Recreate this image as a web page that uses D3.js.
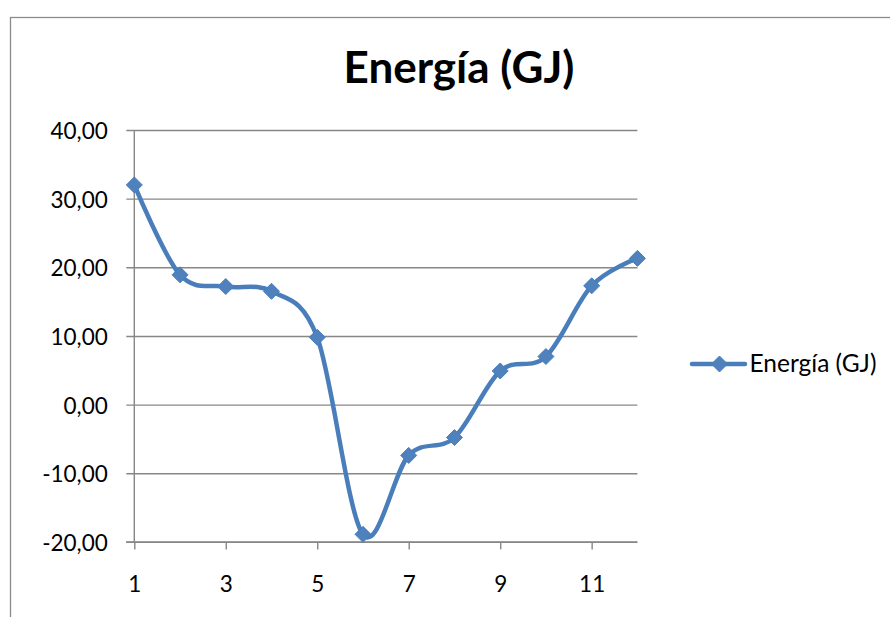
<!DOCTYPE html>
<html>
<head>
<meta charset="utf-8">
<script src="https://cdn.jsdelivr.net/npm/d3@7"></script>
<style>
  html, body { margin: 0; padding: 0; background: #fff; }
  svg { display: block; }
  text { font-family: Lato, "Open Sans", sans-serif; fill: #000; }
</style>
</head>
<body>
<svg id="chart" width="890" height="617"></svg>
<script>
// Monthly energy balance (GJ), periods 1..12
const periods = [1, 2, 3, 4, 5, 6, 7, 8, 9, 10, 11, 12];
const energy = [32.0, 18.9, 17.2, 16.5, 9.8, -18.9, -7.4, -4.8, 4.9, 7.0, 17.3, 21.3];
const yTicks = [-20, -10, 0, 10, 20, 30, 40];
const xTicks = [1, 3, 5, 7, 9, 11];
const seriesName = "Energía (GJ)";
const chartTitle = "Energía (GJ)";

const svg = d3.select("#chart");
const gridColor = "#878787";
const lineColor = "#4a7ebb";
const markerColor = "#4f81bd";

// Chart frame (runs off the right and bottom edges)
svg.append("rect")
  .attr("x", 10.5).attr("y", 17.5)
  .attr("width", 1000).attr("height", 1000)
  .attr("fill", "none").attr("stroke", "#8c8c8c").attr("stroke-width", 1.3);

const x = d3.scaleLinear().domain([1, 12]).range([134.3, 637.4]);
const y = d3.scaleLinear().domain([-20, 40]).range([541.9, 130]);

const fmt = v => d3.format(".2f")(v).replace(".", ",").replace("−", "-");

// Horizontal gridlines with outside tick marks
const yAxis = d3.axisLeft(y)
  .tickValues(yTicks)
  .tickSize(-(637.4 - 134.3))
  .tickSizeOuter(0)
  .tickPadding(0)
  .tickFormat(fmt);

const gy = svg.append("g").attr("transform", "translate(134.3,0)").call(yAxis);
gy.select(".domain").remove();
gy.selectAll(".tick line")
  .attr("x1", -8)
  .attr("stroke", gridColor).attr("stroke-width", 1.4);
gy.selectAll(".tick text")
  .attr("x", -26.5)
  .attr("dy", null)
  .attr("y", 8.5)
  .attr("font-size", 22.5)
  .attr("text-anchor", "end");

// Vertical axis line
svg.append("line")
  .attr("x1", x(1)).attr("x2", x(1))
  .attr("y1", y(40)).attr("y2", y(-20))
  .attr("stroke", gridColor).attr("stroke-width", 1.4);

// Category axis along the bottom
const xAxis = d3.axisBottom(x)
  .tickValues(xTicks)
  .tickSize(7.5)
  .tickSizeOuter(0)
  .tickFormat(d3.format("d"));

const gx = svg.append("g").attr("transform", `translate(0,${y(-20)})`).call(xAxis);
gx.select(".domain")
  .attr("d", `M126,0H${x(12)}`)
  .attr("stroke", gridColor).attr("stroke-width", 1.4);
gx.selectAll(".tick line").attr("stroke", gridColor).attr("stroke-width", 1.4);
gx.selectAll(".tick text")
  .attr("dy", null)
  .attr("y", 49.8)
  .attr("font-size", 22.5);

// Smoothed series line
const line = d3.line()
  .x((d, i) => x(periods[i]))
  .y(d => y(d))
  .curve(d3.curveCardinal.tension(0));

svg.append("path")
  .datum(energy)
  .attr("d", line)
  .attr("fill", "none")
  .attr("stroke", lineColor)
  .attr("stroke-width", 4.5)
  .attr("stroke-linejoin", "round")
  .attr("stroke-linecap", "round");

// Diamond markers
const diamond = (cx, cy, r) => `M${cx},${cy - r}L${cx + r},${cy}L${cx},${cy + r}L${cx - r},${cy}Z`;

svg.append("g").selectAll("path")
  .data(energy)
  .join("path")
  .attr("d", (d, i) => diamond(x(periods[i]), y(d), 8))
  .attr("fill", markerColor)
  .attr("stroke", lineColor)
  .attr("stroke-width", 1);

// Title
svg.append("text")
  .attr("x", 459).attr("y", 82.7)
  .attr("text-anchor", "middle")
  .attr("font-size", 44)
  .attr("font-weight", "bold")
  .text(chartTitle);

// Legend
const legend = svg.append("g");
legend.append("line")
  .attr("x1", 692).attr("x2", 745)
  .attr("y1", 364).attr("y2", 364)
  .attr("stroke", lineColor).attr("stroke-width", 4.5)
  .attr("stroke-linecap", "round");
legend.append("path")
  .attr("d", diamond(719.5, 364, 8))
  .attr("fill", markerColor).attr("stroke", lineColor).attr("stroke-width", 1);
legend.append("text")
  .attr("x", 749.5).attr("y", 371.7)
  .attr("font-size", 24.5)
  .text(seriesName);
</script>
</body>
</html>
